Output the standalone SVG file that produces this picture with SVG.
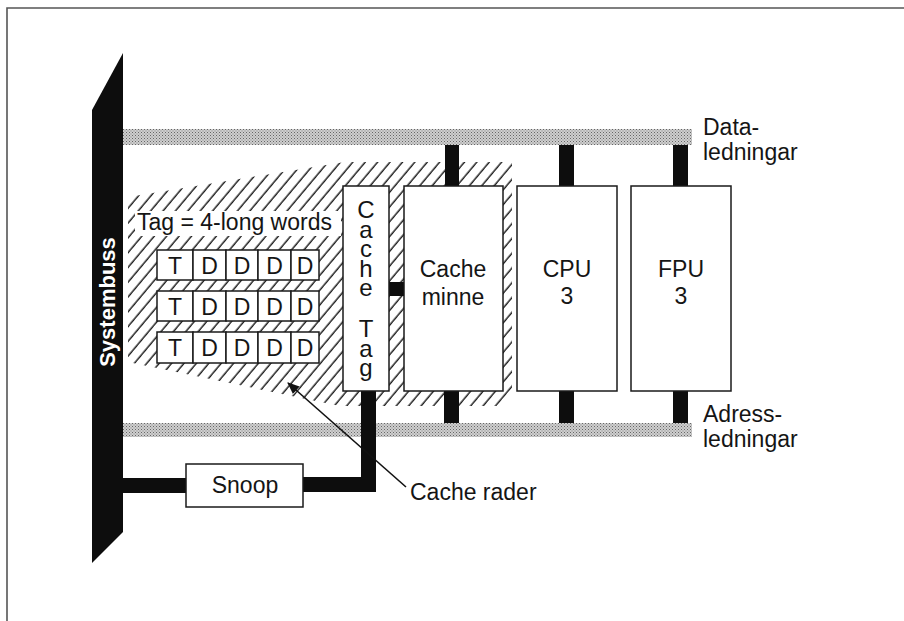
<svg xmlns="http://www.w3.org/2000/svg" width="904" height="621" viewBox="0 0 904 621">
<style>
text{font-family:"Liberation Sans",Arial,sans-serif;font-size:23px;fill:#151515}
.box{fill:#fff;stroke:#1a1a1a;stroke-width:1.5}
.blk{fill:#0d0d0d}
.bus{fill:url(#dots)}
.mid{text-anchor:middle}
.vert{writing-mode:vertical-rl;text-orientation:upright;font-size:24px;letter-spacing:-7.5px}
</style>
<defs>
<pattern id="dots" width="3" height="3" patternUnits="userSpaceOnUse">
<rect width="3" height="3" fill="#cfcfcf"/>
<rect x="0" y="0" width="1" height="1" fill="#666"/>
<rect x="1.5" y="1.5" width="1" height="1" fill="#808080"/>
</pattern>
<pattern id="hatch" width="9.5" height="20" patternUnits="userSpaceOnUse" patternTransform="rotate(40)">
<line x1="4" y1="0" x2="4" y2="20" stroke="#111" stroke-width="1.4"/>
</pattern>
<marker id="arr" viewBox="0 0 12 10" refX="11" refY="5" markerWidth="12" markerHeight="10" markerUnits="userSpaceOnUse" orient="auto">
<path d="M0,0 L12,5 L0,10 Z" fill="#111"/>
</marker>
</defs>
<rect width="904" height="621" fill="#fff"/>
<path d="M7,621 V8 H904" fill="none" stroke="#555" stroke-width="1.6"/>

<g id="hatched-area">
<polygon points="128,197 345,162 512,162 512,390 500,406 340,406 128,362" fill="url(#hatch)"/>
<rect x="135" y="211" width="206" height="25" fill="#fff"/>
</g>

<g id="data-bus"><rect class="bus" x="123" y="129" width="569" height="16"/></g>
<g id="address-bus"><rect class="bus" x="123" y="423" width="569" height="14"/></g>

<g id="connectors">
<rect class="blk" x="445" y="145" width="14" height="41"/>
<rect class="blk" x="559" y="145" width="15" height="41"/>
<rect class="blk" x="673" y="145" width="15" height="41"/>
<rect class="blk" x="444" y="391" width="15" height="32"/>
<rect class="blk" x="559" y="391" width="15" height="32"/>
<rect class="blk" x="673" y="391" width="15" height="32"/>
<rect class="blk" x="389" y="282" width="15" height="14"/>
<path class="blk" d="M123,478 H186 V493 H123 Z"/>
<path class="blk" d="M303,477 H361 V391 H376 V492 H303 Z"/>
<line x1="406" y1="487" x2="288" y2="383" stroke="#111" stroke-width="1.6" marker-end="url(#arr)"/>
</g>

<g id="systembuss">
<polygon class="blk" points="92,110 123,53 123,532 92,563"/>
<text transform="translate(115,302) rotate(-90)" class="mid" style="fill:#fff;font-weight:bold;font-size:22px">Systembuss</text>
</g>

<g id="tag-label"><text x="137" y="230">Tag = 4-long words</text></g>

<g id="cache-lines">
<g id="row1">
<rect class="box" x="157" y="250" width="36" height="30"/><rect class="box" x="193" y="250" width="33" height="30"/><rect class="box" x="226" y="250" width="32" height="30"/><rect class="box" x="258" y="250" width="33" height="30"/><rect class="box" x="291" y="250" width="28" height="30"/>
<text class="mid" x="175" y="274">T</text><text class="mid" x="209.5" y="274">D</text><text class="mid" x="242" y="274">D</text><text class="mid" x="274.5" y="274">D</text><text class="mid" x="305" y="274">D</text>
</g>
<g id="row2">
<rect class="box" x="157" y="291" width="36" height="30"/><rect class="box" x="193" y="291" width="33" height="30"/><rect class="box" x="226" y="291" width="32" height="30"/><rect class="box" x="258" y="291" width="33" height="30"/><rect class="box" x="291" y="291" width="28" height="30"/>
<text class="mid" x="175" y="315">T</text><text class="mid" x="209.5" y="315">D</text><text class="mid" x="242" y="315">D</text><text class="mid" x="274.5" y="315">D</text><text class="mid" x="305" y="315">D</text>
</g>
<g id="row3">
<rect class="box" x="157" y="332" width="36" height="31"/><rect class="box" x="193" y="332" width="33" height="31"/><rect class="box" x="226" y="332" width="32" height="31"/><rect class="box" x="258" y="332" width="33" height="31"/><rect class="box" x="291" y="332" width="28" height="31"/>
<text class="mid" x="175" y="356">T</text><text class="mid" x="209.5" y="356">D</text><text class="mid" x="242" y="356">D</text><text class="mid" x="274.5" y="356">D</text><text class="mid" x="305" y="356">D</text>
</g>
</g>

<g id="cache-tag">
<rect class="box" x="343" y="186" width="46" height="205"/>
<text class="vert" x="366" y="196">Cache</text>
<text class="vert" x="366" y="315">Tag</text>
</g>

<g id="cache-minne">
<rect class="box" x="404" y="186" width="99" height="205"/>
<text class="mid" x="453" y="277">Cache</text>
<text class="mid" x="453" y="305">minne</text>
</g>

<g id="cpu">
<rect class="box" x="517" y="186" width="100" height="205"/>
<text class="mid" x="567" y="277">CPU</text>
<text class="mid" x="567" y="304">3</text>
</g>

<g id="fpu">
<rect class="box" x="631" y="186" width="100" height="205"/>
<text class="mid" x="681" y="277">FPU</text>
<text class="mid" x="681" y="304">3</text>
</g>

<g id="snoop">
<rect class="box" x="186" y="464" width="117" height="43"/>
<text class="mid" x="245" y="493">Snoop</text>
</g>

<g id="labels">
<text x="703" y="135">Data-</text>
<text x="703" y="160">ledningar</text>
<text x="703" y="422">Adress-</text>
<text x="703" y="447">ledningar</text>
<text x="410" y="500">Cache rader</text>
</g>
</svg>
